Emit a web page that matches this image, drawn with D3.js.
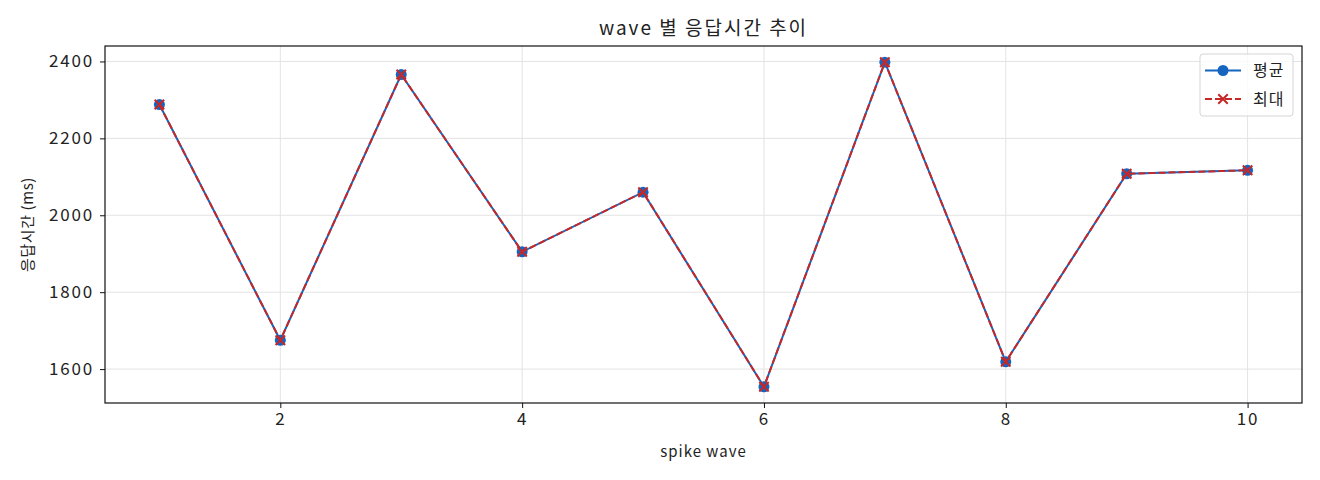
<!DOCTYPE html>
<html>
<head>
<meta charset="utf-8">
<script src="https://cdn.jsdelivr.net/npm/d3@7"></script>
<style>
  body { margin: 0; background: #fff; }
  text { font-family: 'Noto Sans CJK KR', 'Noto Sans', sans-serif; fill: #222; }
</style>
</head>
<body>
<div id="chart"></div>
<script>
const waves = [1, 2, 3, 4, 5, 6, 7, 8, 9, 10]
const avgMs = [2288, 1675, 2366, 1905, 2060, 1554, 2398, 1619, 2108, 2117]
const maxMs = [2288, 1675, 2366, 1905, 2060, 1554, 2398, 1619, 2108, 2117]
const xTicks = [2, 4, 6, 8, 10]
const yTicks = [1600, 1800, 2000, 2200, 2400]
const seriesNames = ['평균', '최대']

const width = 1320
const height = 480
const margin = { top: 46, right: 18, bottom: 77, left: 105 }
const blue = '#1565c0'
const red = '#c62828'

const svg = d3.select('#chart')
  .append('svg')
  .attr('width', width)
  .attr('height', height)

const plotW = width - margin.left - margin.right
const plotH = height - margin.top - margin.bottom

// matplotlib style 5% padding on each side
const xPad = (d3.max(waves) - d3.min(waves)) * 0.05
const allY = avgMs.concat(maxMs)
const yPad = (d3.max(allY) - d3.min(allY)) * 0.05

const x = d3.scaleLinear()
  .domain([d3.min(waves) - xPad, d3.max(waves) + xPad])
  .range([0, plotW])
const y = d3.scaleLinear()
  .domain([d3.min(allY) - yPad, d3.max(allY) + yPad])
  .range([plotH, 0])

const g = svg.append('g').attr('transform', `translate(${margin.left},${margin.top})`)

// grid
g.append('g')
  .selectAll('line')
  .data(xTicks)
  .join('line')
  .attr('x1', d => x(d)).attr('x2', d => x(d))
  .attr('y1', 0).attr('y2', plotH)
  .attr('stroke', '#e3e3e3').attr('stroke-width', 1)
g.append('g')
  .selectAll('line')
  .data(yTicks)
  .join('line')
  .attr('x1', 0).attr('x2', plotW)
  .attr('y1', d => y(d)).attr('y2', d => y(d))
  .attr('stroke', '#e3e3e3').attr('stroke-width', 1)

// axes
const xAxis = g.append('g')
  .attr('transform', `translate(0,${plotH})`)
  .call(d3.axisBottom(x).tickValues(xTicks).tickFormat(d3.format('d')).tickSize(5).tickPadding(5))
const yAxis = g.append('g')
  .call(d3.axisLeft(y).tickValues(yTicks).tickFormat(d3.format('d')).tickSize(5).tickPadding(6))
for (const ax of [xAxis, yAxis]) {
  ax.select('.domain').remove()
  ax.selectAll('.tick line').attr('stroke', '#111').attr('stroke-width', 1)
  ax.selectAll('.tick text')
    .style('font-size', '17px')
    .style('letter-spacing', '1.8px')
    .attr('fill', '#222')
}

g.append('rect')
  .attr('width', plotW).attr('height', plotH)
  .attr('fill', 'none').attr('stroke', '#111').attr('stroke-width', 1.2)

const line = (vals) => d3.line()
  .x((d, i) => x(waves[i]))
  .y(d => y(d))(vals)

// avg series
g.append('path')
  .attr('d', line(avgMs))
  .attr('fill', 'none').attr('stroke', blue).attr('stroke-width', 2)
g.append('g')
  .selectAll('circle')
  .data(avgMs)
  .join('circle')
  .attr('cx', (d, i) => x(waves[i]))
  .attr('cy', d => y(d))
  .attr('r', 5.5)
  .attr('fill', blue)

// max series
g.append('path')
  .attr('d', line(maxMs))
  .attr('fill', 'none').attr('stroke', red).attr('stroke-width', 2)
  .attr('stroke-dasharray', '7,3')
const cross = d3.symbol().type(d3.symbolX).size(60)
g.append('g')
  .selectAll('path')
  .data(maxMs)
  .join('path')
  .attr('transform', (d, i) => `translate(${x(waves[i])},${y(d)})`)
  .attr('d', cross)
  .attr('fill', 'none').attr('stroke', red).attr('stroke-width', 2)

// title and labels
svg.append('text')
  .attr('x', margin.left + plotW / 2).attr('y', 35)
  .attr('text-anchor', 'middle')
  .style('font-size', '19px')
  .style('letter-spacing', '2px')
  .text('wave 별 응답시간 추이')
svg.append('text')
  .attr('x', margin.left + plotW / 2).attr('y', 457)
  .attr('text-anchor', 'middle')
  .style('font-size', '15px')
  .style('letter-spacing', '1px')
  .text('spike wave')
svg.append('text')
  .attr('transform', `translate(33,${margin.top + plotH / 2}) rotate(-90)`)
  .attr('text-anchor', 'middle')
  .style('font-size', '15px')
  .style('letter-spacing', '0.6px')
  .text('응답시간 (ms)')

// legend
const lg = g.append('g').attr('transform', `translate(${plotW - 102},8)`)
lg.append('rect')
  .attr('width', 93).attr('height', 62).attr('rx', 3)
  .attr('fill', '#fff').attr('fill-opacity', 0.8)
  .attr('stroke', '#d5d5d5').attr('stroke-width', 1)
const entries = lg.selectAll('g.entry')
  .data(seriesNames)
  .join('g')
  .attr('class', 'entry')
  .attr('transform', (d, i) => `translate(0,${16.5 + i * 28.5})`)
entries.append('line')
  .attr('x1', 5).attr('x2', 41)
  .attr('stroke', (d, i) => i === 0 ? blue : red)
  .attr('stroke-width', 2)
  .attr('stroke-dasharray', (d, i) => i === 0 ? null : '7,3')
entries.filter((d, i) => i === 0).append('circle')
  .attr('cx', 23).attr('r', 5.5).attr('fill', blue)
entries.filter((d, i) => i === 1).append('path')
  .attr('transform', 'translate(23,0)')
  .attr('d', cross)
  .attr('fill', 'none').attr('stroke', red).attr('stroke-width', 2)
entries.append('text')
  .attr('x', 53).attr('dy', '0.35em')
  .style('font-size', '16px')
  .style('letter-spacing', '1px')
  .text(d => d)
</script>
</body>
</html>
